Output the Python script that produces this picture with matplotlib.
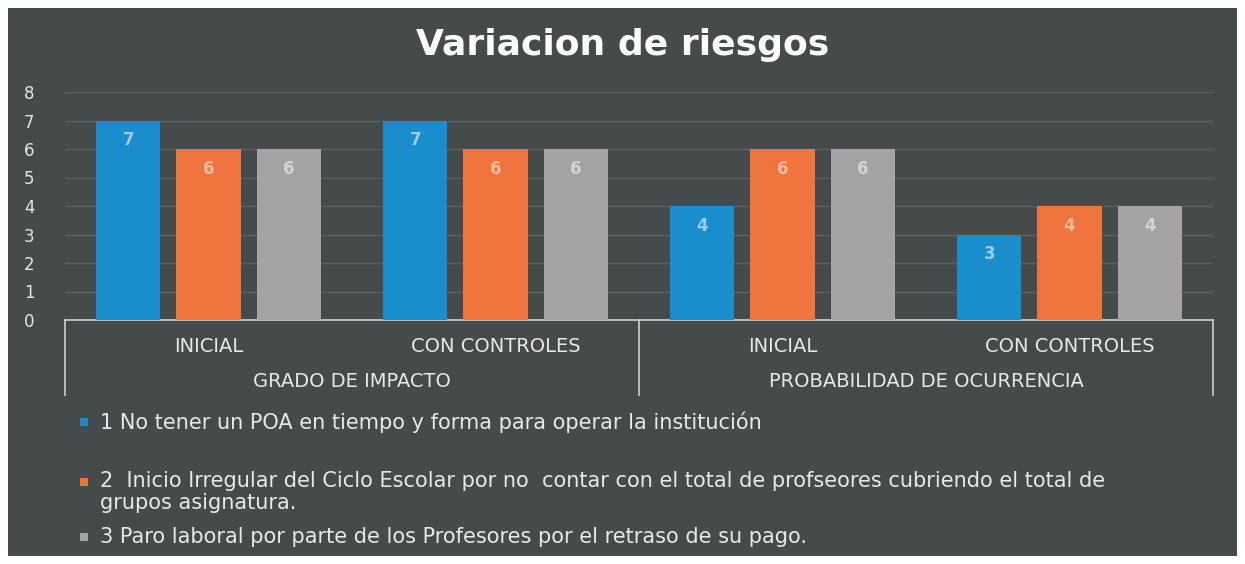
import numpy as np
import matplotlib.pyplot as plt
from matplotlib.patches import Rectangle

plt.rcParams['font.family'] = ['DejaVu Sans']

# data
sub_cats = ["INICIAL", "CON CONTROLES", "INICIAL", "CON CONTROLES"]
groups = ["GRADO DE IMPACTO", "PROBABILIDAD DE OCURRENCIA"]
series_names = [
    "1 No tener un POA en tiempo y forma para operar la institución",
    "2  Inicio Irregular del Ciclo Escolar por no  contar con el total de profseores cubriendo el total de\ngrupos asignatura.",
    "3 Paro laboral por parte de los Profesores por el retraso de su pago.",
]
s1 = [7, 7, 4, 3]
s2 = [6, 6, 6, 4]
s3 = [6, 6, 6, 4]
colors = ["#1a8dcc", "#f0743e", "#a3a3a3"]
label_colors = ["#9fcbe6", "#f7b9a0", "#d4d4d4"]

bg = "#454b4b"
W, H = 1245, 564
fig = plt.figure(figsize=(W / 100, H / 100), dpi=100, facecolor="white")
fig.patches.append(Rectangle((8 / W, 8 / H), 1229 / W, 548 / H,
                             transform=fig.transFigure, facecolor=bg,
                             edgecolor="none", zorder=-10))

ax = fig.add_axes([65 / W, (H - 320) / H, 1148 / W, 228 / H])
ax.set_facecolor("none")
x = np.arange(len(sub_cats))
offs = [-0.279, 0, 0.279]
bw = 0.223
for vals, off, c, lc in zip([s1, s2, s3], offs, colors, label_colors):
    ax.bar(x + off, vals, bw, color=c, zorder=3)
    for xi, v in zip(x, vals):
        ax.text(xi + off, v - 0.7, str(v), ha="center", va="center",
                color=lc, fontsize=12, fontweight="bold", zorder=4)

ax.set_xlim(-0.5, 3.5)
ax.set_ylim(0, 8)
ax.set_yticks(range(9))
ax.tick_params(axis="y", length=0, pad=22, labelcolor="#e6e6e6", labelsize=12)
ax.set_xticks([])
ax.grid(axis="y", color="#5a6060", linewidth=1, zorder=0)
for s in ax.spines.values():
    s.set_visible(False)

# category box lines
line_kw = dict(color="#d0d0d0", linewidth=1.2, clip_on=False, transform=ax.transAxes)
ax.plot([0, 1], [0, 0], **line_kw)
for xb in [0, 0.5, 1]:
    ax.plot([xb, xb], [0, -0.33], **line_kw)
for xi, name in zip(x, sub_cats):
    ax.text((xi + 0.5) / 4, -0.115, name, transform=ax.transAxes, ha="center",
            va="center", color="#e8e8e8", fontsize=14)
for gi, name in enumerate(groups):
    ax.text(0.25 + 0.5 * gi, -0.27, name, transform=ax.transAxes, ha="center",
            va="center", color="#e8e8e8", fontsize=14)

fig.text(0.5, (H - 45) / H, "Variacion de riesgos", ha="center", va="center",
         color="white", fontsize=26, fontweight="bold")

# legend
leg_y = [422, 492, 537]
sq_y = [422, 482, 537]
for yy, sy, name, c in zip(leg_y, sq_y, series_names, colors):
    fig.patches.append(Rectangle((80 / W, (H - sy - 4) / H), 8 / W, 8 / H,
                                 transform=fig.transFigure, facecolor=c,
                                 edgecolor="none"))
    fig.text(100 / W, (H - yy) / H, name, ha="left", va="center",
             color="#e8e8e8", fontsize=15, linespacing=1.15)

fig.savefig("out.png", dpi=100, facecolor="white")
